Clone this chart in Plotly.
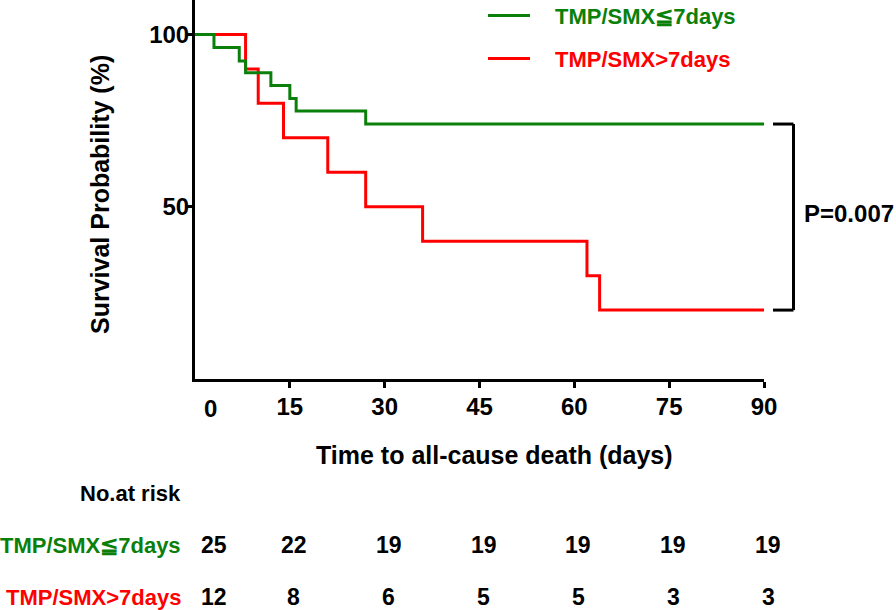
import plotly.graph_objects as go

# ---- data ----
green_name = "TMP/SMX≦7days"
red_name = "TMP/SMX>7days"

green_days = [0, 3, 7, 8, 12, 15, 16, 27, 90]
green_surv = [100, 96.2, 92.3, 88.9, 85.2, 81.4, 77.8, 74.0, 74.0]

red_days = [0, 8, 10, 14, 21, 27, 36, 62, 64, 90]
red_surv = [100, 90, 80, 70, 60, 50, 40, 30, 20, 20]

x_ticks = [0, 15, 30, 45, 60, 75, 90]
x_tick_labels = ["0", "15", "30", "45", "60", "75", "90"]
y_ticks = [50, 100]
y_tick_labels = ["50", "100"]

risk_times = [0, 15, 30, 45, 60, 75, 90]
green_at_risk = [25, 22, 19, 19, 19, 19, 19]
red_at_risk = [12, 8, 6, 5, 5, 3, 3]

p_text = "P=0.007"

GREEN = "#0a800a"
RED = "#ff0000"
FONT = "Liberation Sans, Arial, Helvetica, sans-serif"

fig = go.Figure()
fig.add_trace(go.Scatter(x=red_days, y=red_surv, mode="lines", line_shape="hv",
                         line=dict(color=RED, width=3), name=red_name, showlegend=False))
fig.add_trace(go.Scatter(x=green_days, y=green_surv, mode="lines", line_shape="hv",
                         line=dict(color=GREEN, width=3), name=green_name, showlegend=False))

fig.update_layout(
    width=896, height=610,
    margin=dict(l=195, r=132, t=0, b=231),
    plot_bgcolor="white", paper_bgcolor="white",
    font=dict(family=FONT, color="black", size=24, weight="bold"),
    showlegend=False,
)
fig.update_xaxes(range=[0, 90], tickvals=x_ticks[1:], ticktext=x_tick_labels[1:],
                 showline=True, linewidth=3, linecolor="black", ticks="outside",
                 ticklen=6, tickwidth=3, tickcolor="black", showgrid=False, zeroline=False,
                 ticklabelstandoff=-2,
                 tickfont=dict(size=24, family=FONT, weight="bold"))
fig.update_yaxes(range=[0, 110], tickvals=y_ticks, ticktext=y_tick_labels,
                 showline=True, linewidth=3, linecolor="black", ticks="outside",
                 ticklen=6, tickwidth=3, tickcolor="black", showgrid=False, zeroline=False,
                 ticklabelstandoff=-8,
                 tickfont=dict(size=24, family=FONT, weight="bold"))

PH = 379.0  # plot height in px
def py(px):
    return 1 - px / PH

def note(**kw):
    kw.setdefault("showarrow", False)
    kw.setdefault("xanchor", "center")
    kw.setdefault("yanchor", "middle")
    fig.add_annotation(**kw)

# "0" x tick label (offset like the reference)
note(x=x_ticks[0], xref="x", y=py(408), yref="paper", text=x_tick_labels[0],
     xshift=15, font=dict(size=24, family=FONT, weight="bold"))

# axis titles
note(x=(494.5 - 195) / 569, xref="paper", y=py(455), yref="paper",
     text="Time to all-cause death (days)",
     font=dict(size=25, family=FONT, weight="bold"))
note(x=(100 - 195) / 569, xref="paper", y=py(195), yref="paper",
     text="Survival Probability (%)", textangle=-90,
     font=dict(size=25, family=FONT, weight="bold"))

# legend (manual)
for name, col, ypx in [(green_name, GREEN, 15.5), (red_name, RED, 58.5)]:
    fig.add_shape(type="line", xref="paper", yref="paper",
                  x0=(488 - 195) / 569, x1=(530 - 195) / 569, y0=py(ypx), y1=py(ypx),
                  line=dict(color=col, width=3))
    note(x=(553 - 195) / 569, xref="paper", y=py(ypx + 1), yref="paper",
         text=name, xanchor="left",
         font=dict(size=22, family=FONT, weight="bold", color=col))

# p-value bracket between final survival values
g_end = green_surv[-1]
r_end = red_surv[-1]
bx0 = (773 - 195) / 569
bx1 = (793.5 - 195) / 569
for yv in (g_end, r_end):
    fig.add_shape(type="line", xref="paper", yref="y", x0=bx0, x1=bx1, y0=yv, y1=yv,
                  line=dict(color="black", width=3))
fig.add_shape(type="line", xref="paper", yref="y", x0=bx1, x1=bx1, y0=g_end, y1=r_end,
              line=dict(color="black", width=3))
note(x=(802 - 195) / 569, xref="paper", y=py(213.5), yref="paper",
     text=p_text, xanchor="left",
     font=dict(size=24, family=FONT, weight="bold"))

# number at risk table
note(x=(183 - 195) / 569, xref="paper", y=py(493), yref="paper",
     text="No.at risk", xanchor="right",
     font=dict(size=22, family=FONT, weight="bold"))
for name, col, counts, ypx in [(green_name, GREEN, green_at_risk, 545),
                               (red_name, RED, red_at_risk, 597)]:
    note(x=(183 - 195) / 569, xref="paper", y=py(ypx), yref="paper",
         text=name, xanchor="right",
         font=dict(size=22, family=FONT, weight="bold", color=col))
    for i, (t, n) in enumerate(zip(risk_times, counts)):
        note(x=t, xref="x", y=py(ypx), yref="paper", text=str(n),
             xshift=(19 if i == 0 else 4),
             font=dict(size=23, family=FONT, weight="bold"))

fig.write_html("out.html", config={"displayModeBar": False},
               post_script="document.body.style.margin='0px';")
